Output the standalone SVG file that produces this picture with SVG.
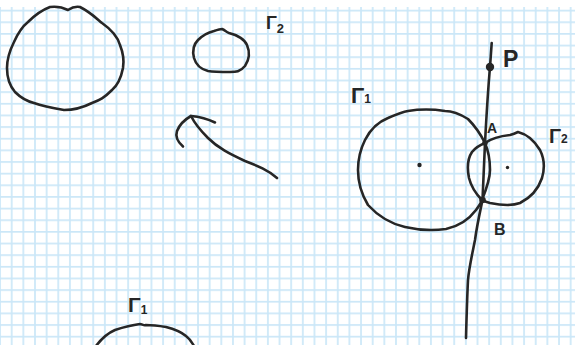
<svg xmlns="http://www.w3.org/2000/svg" width="575" height="345" viewBox="0 0 575 345">
<defs>
<pattern id="grid" x="5.88" y="4.88" width="11.645" height="11.645" patternUnits="userSpaceOnUse">
<path d="M5.82 0V11.645M0 5.82H11.645" stroke="#cbe7f8" stroke-width="1.7" fill="none"/>
</pattern>
</defs>
<style>
.ink{fill:none;stroke:#262626;stroke-width:2.6;stroke-linecap:round;stroke-linejoin:round}
.dot{fill:#262626}
.lbl{font-family:"Liberation Sans",Arial,sans-serif;fill:#262626;font-weight:bold}
</style>
<rect width="575" height="345" fill="#fff"/>
<rect y="7" width="575" height="338" fill="url(#grid)"/>

<g id="blob-large">
<path class="ink" d="M50 7 C58 6 64 8 68 10 C71 8 75 6 80 7 C90 12 96 18 102 23 C112 30 118 38 120 45 C124 55 124 62 123 68 C121 78 118 85 112 90 C104 98 100 100 92 103 C82 108 74 110 64 110 C52 108 42 106 34 103 C26 101 20 97 15 92 C9 85 7 78 7 68 C7 58 10 50 14 42 C18 33 23 26 28 22 C34 16 42 10 50 7 Z"/>
</g>

<g id="blob-small">
<path class="ink" d="M222 29 C225 30 226 32 229 33 C238 35 245 40 247 45 C250 52 249 60 245 66 C240 72 236 72 230 72 C222 72 214 72 208 71 C200 69 196 65 194 58 C192 50 194 44 198 40 C203 35 210 32 214 31 C217 30 220 29 222 29 Z"/>
<text class="lbl" x="266" y="29" font-size="18">Γ<tspan font-size="13" dy="4">2</tspan></text>
</g>

<g id="arrow">
<path class="ink" d="M277 178 C268 170 258 166 245 161 C230 154 218 148 208 138 C200 130 195 124 191 116"/>
<path class="ink" d="M215 122.5 C210 120 203 117 191 116 C184 120 179 126 177 131 C175 137 179 143 183 146.5"/>
</g>

<g id="blob-bottom">
<path class="ink" d="M96 346 C102 338 108 333 115 330 C124 327 132 325 140 324 C142 324 144 326 146 325 C152 325 160 326 166 327 C174 329 180 331 186 336 C190 339 192 342 194 346"/>
<text class="lbl" x="128" y="312" font-size="21">Γ<tspan font-size="12" dy="2">1</tspan></text>
</g>

<g id="circle-gamma1">
<path class="ink" d="M485 143 C480 133 476 127 468 119 C460 114 452 111 445 111 C432 109 420 109 408 111 C402 112 395 115 388 118 C378 122 370 130 365 140 C360 150 358 160 358 170 C358 182 362 195 368 205 C378 216 392 224 405 227 C418 230 432 231 446 229 C460 226 470 218 476 210 C479 206 481 203 482 200 C486 190 490 180 490 170 C490 160 488 150 485 143 Z"/>
<circle class="dot" cx="419.5" cy="165" r="2.2"/>
<text class="lbl" x="351" y="103" font-size="22">Γ<tspan font-size="12" dy="0">1</tspan></text>
</g>

<g id="circle-gamma2">
<path class="ink" d="M485 143 C492 138 500 136 510 135 C514 134 516 133 518 132 C526 134 534 140 540 150 C544 158 545 168 542 178 C538 190 530 198 520 203 C512 206 500 205 490 203 C486 202 484 201 482 200 C476 194 471 186 469 178 C467 168 468 158 472 152 C476 147 480 145 485 143 Z"/>
<circle class="dot" cx="507.5" cy="167.5" r="1.7"/>
<text class="lbl" x="549" y="143" font-size="20">Γ<tspan font-size="12" dy="0">2</tspan></text>
</g>

<g id="connectors">
<path class="ink" d="M491.7 43 L490 67 C488 90 486.5 115 485 143 L482.5 200 C480 212 477 225 475 240 C472 255 469 268 468 280 C467 300 466.5 320 466 338"/>
</g>

<g id="point-P">
<circle class="dot" cx="490" cy="67" r="4.2"/>
<text class="lbl" x="503" y="67" font-size="23">P</text>
</g>
<g id="point-A">
<circle class="dot" cx="485" cy="143" r="2.8"/>
<text class="lbl" x="487" y="133" font-size="14">A</text>
</g>
<g id="point-B">
<circle class="dot" cx="482.5" cy="200" r="3.3"/>
<text class="lbl" x="494" y="235" font-size="16">B</text>
</g>
</svg>
